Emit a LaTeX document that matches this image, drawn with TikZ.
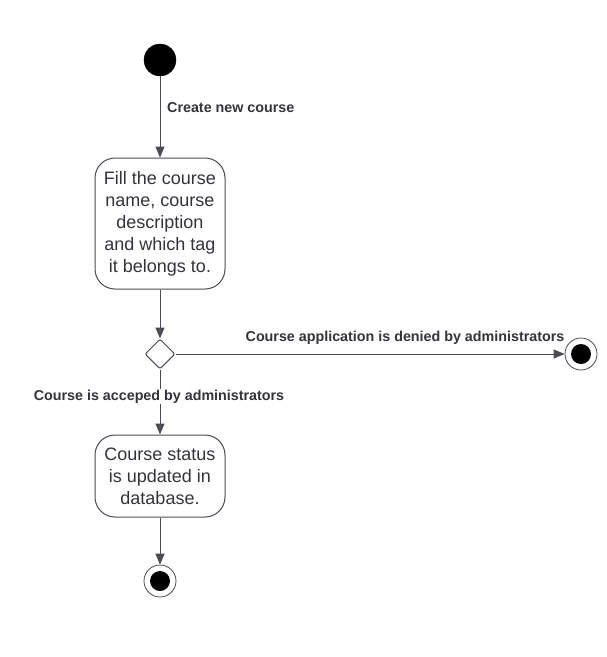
\documentclass[tikz,border=0pt]{standalone}
\usepackage{fontspec}
\setmainfont{Liberation Sans}
\usetikzlibrary{arrows.meta,shapes.geometric}
\definecolor{ln}{HTML}{4A4B55}
\definecolor{tx}{HTML}{33333A}
\tikzset{
  act/.style={draw=ln, line width=1pt, rounded corners=20pt, minimum width=130pt, align=center, font=\fontsize{18}{22}\selectfont, text=tx, inner sep=0pt},
  flow/.style={draw=ln, line width=1pt, -{Triangle[width=9pt,length=11pt]}},
  lbl/.style={font=\fontsize{14.3}{16}\selectfont\bfseries, text=tx, inner sep=1pt},
  startnode/.style={circle, fill=black, draw=black, minimum size=32pt, inner sep=0pt},
  endnode/.style={circle, draw=ln, line width=0.8pt, fill=white, minimum size=32pt, inner sep=0pt, path picture={\fill[black] (path picture bounding box.center) circle (10pt);}},
  dec/.style={diamond, draw=ln, line width=1pt, fill=white, minimum size=30pt, inner sep=0pt, rounded corners=2pt}
}
\begin{document}
\begin{tikzpicture}[x=1pt,y=-1pt]
\useasboundingbox (0,0) rectangle (607,657);
\node[startnode] (s) at (160,60) {};
\node[act, minimum height=131pt] (a1) at (160,223.5) {Fill the course\\name, course\\description\\and which tag\\it belongs to.};
\node[dec] (d) at (160,354) {};
\node[endnode] (e1) at (581,354) {};
\node[act, minimum height=82pt] (a2) at (160,476) {Course status\\is updated in\\database.};
\node[endnode] (e2) at (160,581) {};
\draw[flow] (s) -- (a1);
\node[lbl, anchor=west] (l1) at (166,107.5) {Create new course};
\draw[flow] (a1) -- (d);
\draw[flow] (d) -- (e1);
\node[lbl] (l2) at (405,337.5) {Course application is denied by administrators};
\draw[flow] (d) -- (a2);
\node[lbl, fill=white] (l3) at (159,396.5) {Course is acceped by administrators};
\draw[flow] (a2) -- (e2);
\end{tikzpicture}
\end{document}
